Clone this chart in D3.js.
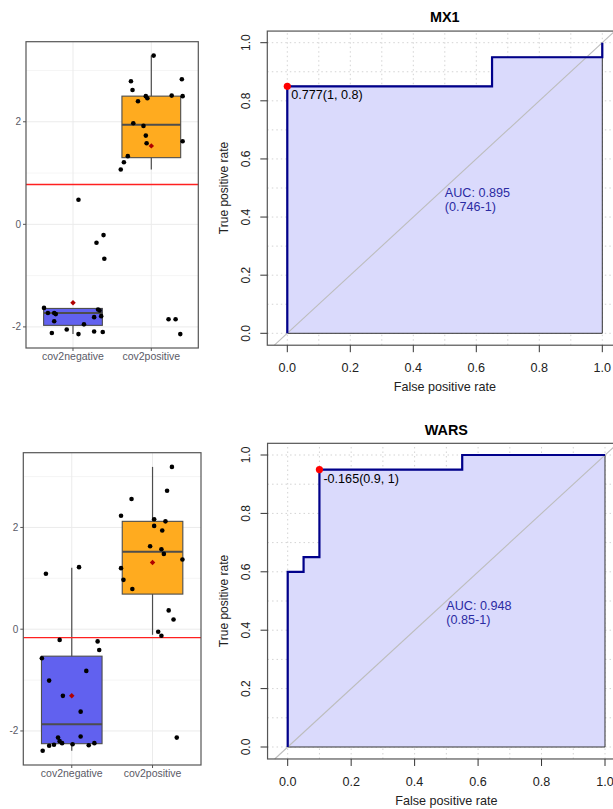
<!DOCTYPE html>
<html>
<head>
<meta charset="utf-8">
<script src="https://cdn.jsdelivr.net/npm/d3@7"></script>
<style>
  body { margin: 0; background: #fff; }
  text { font-family: "Liberation Sans", Arial, sans-serif; }
</style>
</head>
<body>
<div id="chart"></div>
<script>
// Groups shown on every boxplot
let groups = ["cov2negative", "cov2positive"];

// MX1 expression, jittered points (jitter is offset in category units)
let mx1Neg = [-1.63, -1.73, -1.73, -1.75, -1.89, -2.12, -2.05, -2.14, -1.95, -1.81, -2.09, -1.66, -1.68, -1.79, -2.10, 0.48, -0.36, -0.21, -0.67];
let mx1NegJit = [-0.37, -0.32, -0.24, -0.22, -0.24, -0.27, -0.08, 0.07, 0.14, 0.27, 0.27, 0.32, 0.34, 0.36, 0.38, 0.07, 0.30, 0.39, 0.40];
let mx1Pos = [3.29, 2.79, 2.62, 2.83, 2.50, 2.46, 2.40, 2.51, 2.50, 1.97, 1.92, 1.73, 1.58, 1.62, 1.33, 1.21, 1.07, -1.85, -1.85, -2.14];
let mx1PosJit = [0.03, -0.26, -0.24, 0.39, -0.07, -0.05, -0.17, 0.26, 0.40, -0.23, -0.10, -0.07, -0.06, 0.40, -0.30, -0.35, -0.39, 0.22, 0.31, 0.37];
// box stats: [lower whisker, q1, median, q3, upper whisker, mean]
let mx1NegBox = [-2.14, -1.97, -1.73, -1.64, -1.63, -1.53];
let mx1PosBox = [1.07, 1.30, 1.94, 2.50, 3.29, 1.53];
let mx1Cutoff = 0.777;

// WARS expression
let warsNeg = [1.09, 1.22, -0.21, -0.24, -0.41, -0.57, -0.82, -1.01, -1.31, -1.62, -2.11, -2.13, -2.20, -2.24, -2.27, -2.29, -2.26, -2.28, -2.24, -2.39];
let warsNegJit = [-0.32, 0.09, -0.15, 0.32, 0.34, -0.37, 0.18, -0.28, -0.11, 0.11, 0.11, -0.17, -0.15, -0.12, -0.22, -0.28, 0.01, 0.21, 0.28, -0.36];
let warsPos = [3.19, 2.72, 2.56, 2.23, 2.16, 2.12, 2.03, 1.94, 1.63, 1.57, 1.48, 1.37, 1.20, 0.97, 0.79, 0.37, 0.19, -0.05, -0.13, -2.13];
let warsPosJit = [0.24, 0.18, -0.26, -0.39, 0.02, 0.16, 0.02, 0.12, -0.03, 0.11, 0.14, 0.37, -0.39, -0.36, -0.25, 0.20, 0.26, 0.07, 0.11, 0.30];
let warsNegBox = [-2.39, -2.25, -1.87, -0.53, 1.21, -1.31];
let warsPosBox = [-0.11, 0.69, 1.52, 2.12, 3.19, 1.31];
let warsCutoff = -0.165;

// ROC curves (false positive rate, true positive rate)
let mx1Fpr = [0, 0, 0.65, 0.65, 1, 1];
let mx1Tpr = [0, 0.85, 0.85, 0.95, 0.95, 1];
let warsFpr = [0, 0, 0.05, 0.05, 0.1, 0.1, 0.55, 0.55, 1];
let warsTpr = [0, 0.6, 0.6, 0.65, 0.65, 0.95, 0.95, 1, 1];
let mx1Best = [0, 0.85], mx1BestLabel = "0.777(1, 0.8)";
let warsBest = [0.1, 0.95], warsBestLabel = "-0.165(0.9, 1)";
let mx1Auc = ["AUC: 0.895", "(0.746-1)"];
let warsAuc = ["AUC: 0.948", "(0.85-1)"];
let rocTicks = [0, 0.2, 0.4, 0.6, 0.8, 1.0];
let boxTicks = [-2, 0, 2];

let svg = d3.select("#chart").append("svg")
    .attr("width", 613)
    .attr("height", 809);

let fmt = d3.format(".1f");

// ggplot-like boxplot with jittered points
function drawBox(cfg) {
    let g = svg.append("g");
    let all = cfg.neg.concat(cfg.pos);
    let lo = d3.min(all), hi = d3.max(all), pad = (hi - lo) * 0.05;
    let x = d3.scaleLinear().domain([0.4, 2.6]).range([cfg.left, cfg.right]);
    let y = d3.scaleLinear().domain([lo - pad, hi + pad]).range([cfg.bottom, cfg.top]);

    g.append("rect")
        .attr("x", cfg.left).attr("y", cfg.top)
        .attr("width", cfg.right - cfg.left).attr("height", cfg.bottom - cfg.top)
        .attr("fill", "#fff");

    // minor grid
    let minor = d3.range(Math.ceil(lo - pad), Math.floor(hi + pad) + 1).filter(v => v % 2 !== 0);
    g.selectAll(".minor").data(minor).enter().append("line")
        .attr("x1", cfg.left).attr("x2", cfg.right)
        .attr("y1", d => y(d)).attr("y2", d => y(d))
        .attr("stroke", "#f2f2f2").attr("stroke-width", 0.8);
    // major grid
    g.selectAll(".major").data(boxTicks).enter().append("line")
        .attr("x1", cfg.left).attr("x2", cfg.right)
        .attr("y1", d => y(d)).attr("y2", d => y(d))
        .attr("stroke", "#ebebeb").attr("stroke-width", 1);
    g.selectAll(".vgrid").data(groups).enter().append("line")
        .attr("x1", (d, i) => x(i + 1)).attr("x2", (d, i) => x(i + 1))
        .attr("y1", cfg.top).attr("y2", cfg.bottom)
        .attr("stroke", "#ebebeb").attr("stroke-width", 1);

    let boxes = [cfg.negBox, cfg.posBox];
    let fills = ["#6161ef", "#ffab1f"];
    let bw = 0.375;
    boxes.forEach(function(b, i) {
        let cx = x(i + 1);
        g.append("line")
            .attr("x1", cx).attr("x2", cx)
            .attr("y1", y(b[0])).attr("y2", y(b[4]))
            .attr("stroke", "#4d4d4d").attr("stroke-width", 1.2);
        g.append("rect")
            .attr("x", x(i + 1 - bw)).attr("y", y(b[3]))
            .attr("width", x(i + 1 + bw) - x(i + 1 - bw))
            .attr("height", y(b[1]) - y(b[3]))
            .attr("fill", fills[i]).attr("stroke", "#4d4d4d").attr("stroke-width", 1.1);
        g.append("line")
            .attr("x1", x(i + 1 - bw)).attr("x2", x(i + 1 + bw))
            .attr("y1", y(b[2])).attr("y2", y(b[2]))
            .attr("stroke", "#4d4d4d").attr("stroke-width", 2);
    });

    // cutoff line
    g.append("line")
        .attr("x1", cfg.left).attr("x2", cfg.right)
        .attr("y1", y(cfg.cutoff)).attr("y2", y(cfg.cutoff))
        .attr("stroke", "#ff2020").attr("stroke-width", 1.3);

    // points
    let pts = cfg.neg.map((v, i) => ({g: 1, v: v, j: cfg.negJit[i]}))
        .concat(cfg.pos.map((v, i) => ({g: 2, v: v, j: cfg.posJit[i]})));
    g.selectAll(".pt").data(pts).enter().append("circle")
        .attr("cx", d => x(d.g + d.j)).attr("cy", d => y(d.v))
        .attr("r", 2.3).attr("fill", "#000");

    // means
    boxes.forEach(function(b, i) {
        g.append("path")
            .attr("d", d3.symbol().type(d3.symbolSquare).size(15))
            .attr("transform", "translate(" + x(i + 1) + "," + y(b[5]) + ") rotate(45)")
            .attr("fill", "#b00000");
    });

    g.append("rect")
        .attr("x", cfg.left).attr("y", cfg.top)
        .attr("width", cfg.right - cfg.left).attr("height", cfg.bottom - cfg.top)
        .attr("fill", "none").attr("stroke", "#555").attr("stroke-width", 1.2);

    // axes
    g.selectAll(".ytick").data(boxTicks).enter().append("line")
        .attr("x1", cfg.left - 3).attr("x2", cfg.left)
        .attr("y1", d => y(d)).attr("y2", d => y(d))
        .attr("stroke", "#555");
    g.selectAll(".ylab").data(boxTicks).enter().append("text")
        .attr("x", cfg.left - 5).attr("y", d => y(d)).attr("dy", "0.35em")
        .attr("text-anchor", "end").attr("font-size", 10).attr("fill", "#5a5a66")
        .text(d => d);
    g.selectAll(".xtick").data(groups).enter().append("line")
        .attr("x1", (d, i) => x(i + 1)).attr("x2", (d, i) => x(i + 1))
        .attr("y1", cfg.bottom).attr("y2", cfg.bottom + 3)
        .attr("stroke", "#555");
    g.selectAll(".xlab").data(groups).enter().append("text")
        .attr("x", (d, i) => x(i + 1)).attr("y", cfg.labelY)
        .attr("text-anchor", "middle").attr("font-size", 10.5).attr("fill", "#5a5a66")
        .text(d => d);
}

// pROC-like ROC plot
function drawRoc(cfg) {
    let g = svg.append("g");
    let x = d3.scaleLinear().domain([0, 1]).range([cfg.x0, cfg.x1]);
    let y = d3.scaleLinear().domain([0, 1]).range([cfg.yZero, cfg.yOne]);
    let xd = [-0.0635, 1.0635], yd = [-0.041, 1.04];

    // grid
    let grid = d3.range(0, 11).map(i => i / 10);
    g.selectAll(".gv").data(grid).enter().append("line")
        .attr("x1", d => x(d)).attr("x2", d => x(d))
        .attr("y1", y(yd[0])).attr("y2", y(yd[1]))
        .attr("stroke", "#d3d3d3").attr("stroke-dasharray", "1.5,3");
    g.selectAll(".gh").data(grid).enter().append("line")
        .attr("x1", x(xd[0])).attr("x2", x(xd[1]))
        .attr("y1", d => y(d)).attr("y2", d => y(d))
        .attr("stroke", "#d3d3d3").attr("stroke-dasharray", "1.5,3");

    let pts = cfg.fpr.map((f, i) => [f, cfg.tpr[i]]);
    let line = d3.line().x(d => x(d[0])).y(d => y(d[1]));

    // auc polygon
    g.append("path")
        .attr("d", line(pts.concat([[1, 0], [0, 0]])) + "Z")
        .attr("fill", "#dadafc").attr("stroke", "#333").attr("stroke-width", 1);

    // diagonal
    let d0 = Math.max(xd[0], yd[0]), d1 = Math.min(xd[1], yd[1]);
    g.append("line")
        .attr("x1", x(d0)).attr("y1", y(d0))
        .attr("x2", x(d1)).attr("y2", y(d1))
        .attr("stroke", "#bdbdbd").attr("stroke-width", 1.1);

    // curve
    g.append("path")
        .attr("d", line(pts))
        .attr("fill", "none").attr("stroke", "#00008b").attr("stroke-width", 2.2);

    // best threshold
    g.append("circle")
        .attr("cx", x(cfg.best[0])).attr("cy", y(cfg.best[1]))
        .attr("r", 3.6).attr("fill", "#ff0000");
    g.append("text")
        .attr("x", x(cfg.best[0]) + 4).attr("y", y(cfg.best[1]) + 13)
        .attr("font-size", 12.6).attr("fill", "#000")
        .text(cfg.bestLabel);

    // auc text
    g.selectAll(".auc").data(cfg.auc).enter().append("text")
        .attr("x", x(0.5)).attr("y", (d, i) => y(0.5) + 9 + i * 14)
        .attr("font-size", 12.6).attr("fill", "#2b2ba3")
        .text(d => d);

    // frame
    g.append("rect")
        .attr("x", x(xd[0])).attr("y", y(yd[1]))
        .attr("width", x(xd[1]) - x(xd[0])).attr("height", y(yd[0]) - y(yd[1]))
        .attr("fill", "none").attr("stroke", "#555").attr("stroke-width", 1.2);

    let left = x(xd[0]), bottom = y(yd[0]);
    g.selectAll(".yt").data(rocTicks).enter().append("line")
        .attr("x1", left - 7).attr("x2", left)
        .attr("y1", d => y(d)).attr("y2", d => y(d))
        .attr("stroke", "#333");
    g.selectAll(".ytl").data(rocTicks).enter().append("text")
        .attr("transform", d => "translate(" + cfg.ytickX + "," + y(d) + ") rotate(-90)")
        .attr("text-anchor", "middle").attr("font-size", 12).attr("fill", "#222")
        .text(d => fmt(d));
    g.selectAll(".xt").data(rocTicks).enter().append("line")
        .attr("x1", d => x(d)).attr("x2", d => x(d))
        .attr("y1", bottom).attr("y2", bottom + 7)
        .attr("stroke", "#333");
    g.selectAll(".xtl").data(rocTicks).enter().append("text")
        .attr("x", d => x(d)).attr("y", cfg.xtickY)
        .attr("text-anchor", "middle").attr("font-size", 12.6).attr("fill", "#222")
        .text(d => fmt(d));

    g.append("text")
        .attr("x", x(0.5)).attr("y", cfg.xtitleY)
        .attr("text-anchor", "middle").attr("font-size", 12.6).attr("fill", "#222")
        .text("False positive rate");
    g.append("text")
        .attr("transform", "translate(" + cfg.ytitleX + "," + y(0.5) + ") rotate(-90)")
        .attr("text-anchor", "middle").attr("font-size", 12).attr("fill", "#222")
        .text("True positive rate");
    g.append("text")
        .attr("x", x(0.5)).attr("y", cfg.titleY)
        .attr("text-anchor", "middle").attr("font-size", 14.4).attr("font-weight", "bold")
        .attr("fill", "#000")
        .text(cfg.title);
}

drawBox({left: 26, right: 198.3, top: 41.7, bottom: 348, labelY: 359.5,
    neg: mx1Neg, negJit: mx1NegJit, pos: mx1Pos, posJit: mx1PosJit,
    negBox: mx1NegBox, posBox: mx1PosBox, cutoff: mx1Cutoff});
drawBox({left: 23.3, right: 201, top: 452.7, bottom: 765, labelY: 777,
    neg: warsNeg, negJit: warsNegJit, pos: warsPos, posJit: warsPosJit,
    negBox: warsNegBox, posBox: warsPosBox, cutoff: warsCutoff});

drawRoc({title: "MX1", x0: 287.3, x1: 602.3, yZero: 333.3, yOne: 42.7,
    titleY: 22, xtickY: 372, xtitleY: 390.5, ytickX: 249.5, ytitleX: 227.5,
    fpr: mx1Fpr, tpr: mx1Tpr, best: mx1Best, bestLabel: mx1BestLabel, auc: mx1Auc});
drawRoc({title: "WARS", x0: 287.7, x1: 605, yZero: 747, yOne: 455,
    titleY: 435, xtickY: 786, xtitleY: 805, ytickX: 249.5, ytitleX: 227.5,
    fpr: warsFpr, tpr: warsTpr, best: warsBest, bestLabel: warsBestLabel, auc: warsAuc});
</script>
</body>
</html>
